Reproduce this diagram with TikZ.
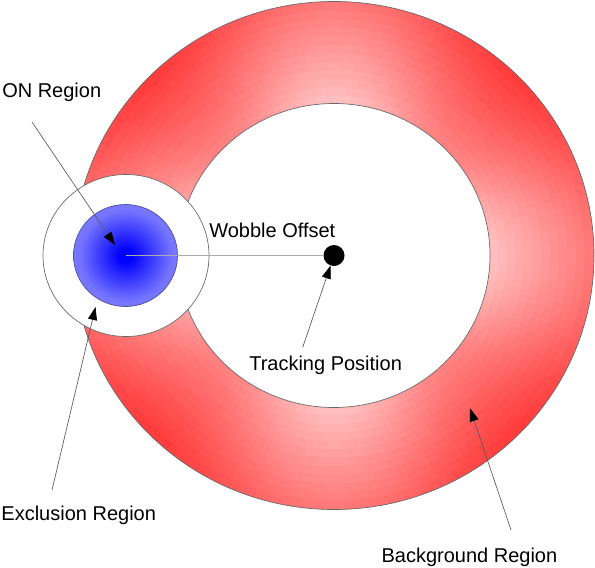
\documentclass[tikz,border=0pt]{standalone}
\usepackage{fontspec}
\setmainfont{Liberation Sans}
\usepackage{tikz}
\usetikzlibrary{arrows.meta, positioning}
\pgfdeclareradialshading{onshade}{\pgfpoint{0bp}{0bp}}{color(0bp)=(blue); color(3bp)=(blue); color(22bp)=(blue!55!white); color(50bp)=(blue!36!white)}
\tikzset{
  label text/.style={inner sep=0pt, anchor=base west, font=\fontsize{15}{18}\selectfont},
  pointer/.style={draw=black!65, line width=0.5pt, -{Triangle[length=9.75pt, width=6.75pt, color=black]}},
  ring line/.style={draw=black!60, line width=0.5pt}
}
\begin{document}
\begin{tikzpicture}[x=0.75pt, y=-0.75pt]
				\useasboundingbox (0,0) rectangle (595,567);
				\coordinate (ctr) at (334,255.5);
				\coordinate (exc) at (126,255.5);
				\coordinate (oncentre) at (125.5,255.5);
				
				\begin{scope}[shift={(ctr)}]
				\clip (0,0) ellipse [x radius=260, y radius=254];
				\foreach \j in {0,...,11}{
					\pgfmathsetmacro\rxa{156+8.667*\j-0.6}
					\pgfmathsetmacro\rya{152+8.5*\j-0.6}
					\pgfmathsetmacro\rxb{\j==11 ? 300 : 156+8.667*(\j+1)+0.4}
					\pgfmathsetmacro\ryb{\j==11 ? 300 : 152+8.5*(\j+1)+0.4}
					\foreach \a in {0,2,...,358}{
						\pgfmathtruncatemacro\redmix{49+29*(\j+0.5)/12-24*abs(cos(2*\a+2))^2}
						\fill[red!\redmix!white] (\a:\rxa\space and \rya)--(\a:\rxb\space and \ryb)
						--(\a+2.3:\rxb\space and \ryb)--(\a+2.3:\rxa\space and \rya)--cycle;
					}
				}
				\end{scope}
				\draw[ring line] (ctr) ellipse [x radius=260, y radius=254];
				\draw[ring line, fill=white] (ctr) ellipse [x radius=156, y radius=152];
				
				\draw[ring line, fill=white] (exc) ellipse [x radius=83, y radius=81];
				\draw[shading=onshade, draw=blue!40!black!70, line width=0.5pt]
				(oncentre) ellipse [x radius=52, y radius=51];
				
				\node[circle, fill=black, inner sep=0pt, minimum size=15.75pt] (track) at (ctr) {};
				\draw[black!33, line width=1.2pt] (oncentre)--(track);
				
				\node[label text] (on) at (2,97.7) {ON Region};
				\node[label text] (wobble) at (209,237.7) {Wobble Offset};
				\node[label text] (tracking) at (249,370) {Tracking Position};
				\node[label text] (exclusion) at (1.2,520) {Exclusion Region};
				\node[label text] (background) at (381.3,562.3) {Background Region};
				
				\coordinate (onfoot) at (32,122);
				\coordinate (ontip) at (115,245);
				\coordinate (excfoot) at (52,490);
				\coordinate (exctip) at (95.5,307);
				\coordinate (trackfoot) at (302.7,347.3);
				\coordinate (bgfoot) at (511,530);
				\coordinate (bgtip) at (470,408.3);
				
				\draw[pointer] (onfoot)--(ontip);
				\draw[pointer] (excfoot)--(exctip);
				\draw[pointer] (trackfoot)--(track);
				\draw[pointer] (bgfoot)--(bgtip);
			\end{tikzpicture}
\end{document}
